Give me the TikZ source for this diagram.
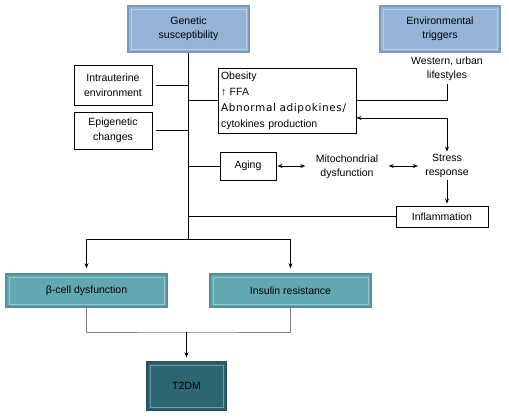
\documentclass[tikz,border=0pt]{standalone}
\usepackage{fontspec}
\setmainfont{Liberation Sans}
\newfontfamily\widefont[LetterSpace=6]{DejaVu Sans}
\usetikzlibrary{arrows.meta}

\definecolor{lightblue}{HTML}{95B3D7}
\definecolor{midteal}{HTML}{62A8B2}
\definecolor{darkteal}{HTML}{2C6673}

\begin{document}
\begin{tikzpicture}[x=1pt,y=-1pt,
    line width=0.9pt,
    font=\fontsize{10.5}{14.5}\selectfont,
    plain/.style={draw,rectangle,inner sep=2pt,align=center},
    bevel/.style={rectangle,align=center,inner sep=2pt,line width=1.4pt,
        path picture={\draw[white,opacity=0.35,line width=0.8pt]
            ([shift={(3pt,-3pt)}]path picture bounding box.north west) rectangle
            ([shift={(-3pt,3pt)}]path picture bounding box.south east);}},
    txt/.style={align=center,inner sep=2pt},
    arr/.style={-{Stealth[length=5pt,width=4pt]}},
    dblarr/.style={{Stealth[length=5pt,width=4pt]}-{Stealth[length=5pt,width=4pt]}}]
        \useasboundingbox (0,0) rectangle (509,418);

        % top boxes
        \node[bevel,fill=lightblue,draw=lightblue!85!black,minimum width=121pt,minimum height=46pt] (gen) at (188.5,29) {Genetic\\susceptibility};
        \node[bevel,fill=lightblue,draw=lightblue!85!black,minimum width=120pt,minimum height=46pt] (env) at (440,29) {Environmental\\triggers};
        \node[txt] (west) at (447,69) {Western, urban\\lifestyles};

        % left boxes
        \node[plain,minimum width=78pt,minimum height=40pt] (intra) at (113,85) {Intrauterine\\environment};
        \node[plain,minimum width=78pt,minimum height=37pt] (epi) at (113,130.5) {Epigenetic\\changes};

        % middle boxes
        \node[plain,align=left,minimum width=138pt,minimum height=65pt,text width=132pt,
              font=\fontsize{10.5}{16}\selectfont] (obes) at (287,100.5)
            {Obesity\\↑ FFA\\{\widefont\fontsize{10.5}{16}\selectfont Abnormal adipokines/}\\cytokines production};
        \node[plain,minimum width=56pt,minimum height=28pt] (aging) at (248,166) {Aging};
        \node[txt] (mito) at (347,167) {Mitochondrial\\dysfunction};
        \node[txt] (stress) at (447,166) {Stress\\response};
        \node[plain,minimum width=92pt,minimum height=21pt] (infl) at (442,216.5) {Inflammation};

        % bottom boxes
        \node[bevel,fill=midteal,draw=midteal!85!black,minimum width=161pt,minimum height=33pt] (beta) at (86.5,290.5) {β-cell dysfunction};
        \node[bevel,fill=midteal,draw=midteal!85!black,minimum width=161pt,minimum height=33pt] (ins) at (290.5,290.5) {Insulin resistance};
        \node[bevel,fill=darkteal,draw=darkteal!85!black,minimum width=79pt,minimum height=48pt] (t2dm) at (186.5,386) {T2DM};

        % trunk
        \coordinate (top) at (gen.south);
        \coordinate (split) at (gen.south |- 0,239);
        \draw (top) -- (split);
        \draw ([xshift=4pt]intra.east) -- (intra.east -| split);
        \draw ([xshift=4pt]epi.east) -- (epi.east -| split);
        \draw (obes.west -| split) -- (obes.west);
        \draw (aging.west -| split) -- (aging.west);
        \draw (infl.west -| split) -- (infl.west);

        % right side
        \draw (west.south) |- (obes.east);
        \coordinate (fork) at (447,118);
        \draw[arr] (fork) -- (fork -| obes.east);
        \draw[arr] (fork) -- (stress.north);
        \draw[dblarr,shorten <=1pt,shorten >=8pt] (aging.east) -- (aging.east -| mito.west);
        \draw[dblarr,shorten <=8pt,shorten >=5pt] (aging.east -| mito.east) -- (aging.east -| stress.west);
        \draw[arr,shorten >=2pt] (stress.south) -- (stress.south |- infl.north);

        % to the bottom boxes
        \coordinate (bl) at (beta.north |- split);
        \coordinate (br) at (ins.north |- split);
        \draw (bl) -- (br);
        \draw[arr,shorten >=5pt] (bl) -- (beta.north);
        \draw[arr,shorten >=5pt] (br) -- (ins.north);

        % to T2DM
        \coordinate (join) at (t2dm.north |- 0,332);
        \draw[gray,line width=0.7pt] ([yshift=2pt]beta.south) |- (join) -| ([yshift=2pt]ins.south);
        \draw[arr,shorten >=4pt] (join) -- (t2dm.north);
      \end{tikzpicture}
\end{document}
